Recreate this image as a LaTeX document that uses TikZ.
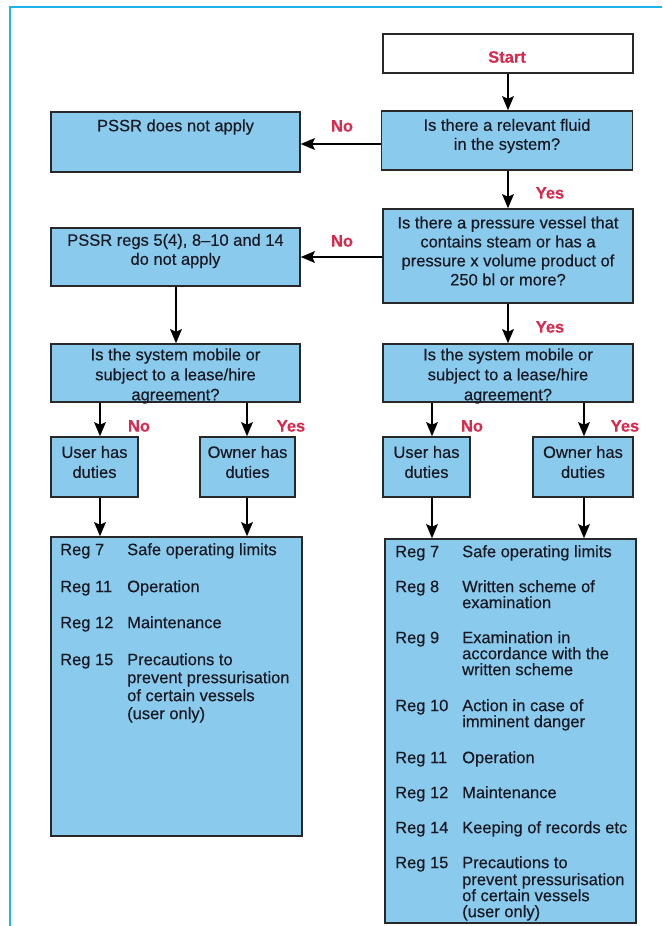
\documentclass[tikz,border=0pt]{standalone}
\usepackage{fontspec}
\setmainfont{Liberation Sans}[FakeBold=0.35]
\newfontfamily\bodyfont{Liberation Sans}[FakeBold=0.35,Ligatures=TeX]
\usetikzlibrary{arrows.meta}
\definecolor{framecyan}{RGB}{28,180,234}
\definecolor{boxblue}{RGB}{138,202,236}
\definecolor{labred}{RGB}{214,44,80}
\definecolor{edge}{RGB}{40,40,40}
\definecolor{ink}{RGB}{25,25,35}
\tikzset{
  box/.style={draw=edge, fill=boxblue, line width=1.4pt, rectangle, inner sep=0pt},
  startbox/.style={draw=edge, fill=white, line width=1.4pt, rectangle, inner sep=0pt},
  txt/.style={inner sep=0pt, align=center, text=ink, font=\bodyfont\fontsize{16.5}{19}\selectfont},
  rtxt/.style={inner sep=0pt, anchor=mid west, yshift=-3.5pt, text=ink, font=\bodyfont\fontsize{16.5}{19}\selectfont},
  lab/.style={inner sep=0pt, text=labred, font=\fontsize{16.5}{19}\selectfont\bfseries},
  arr/.style={line width=2.6pt, -{Stealth[length=14pt,width=11.5pt,inset=2.5pt]}},
}
\begin{document}
\begin{tikzpicture}[x=1pt,y=-1pt]
\useasboundingbox (0,0) rectangle (662,926);
% frame
\draw[framecyan, line width=2.2pt] (10,926) -- (10,7) -- (662,7);

% boxes
\node[startbox, minimum width=250pt, minimum height=39pt] (start) at (508,53.5) {};
\node[box, minimum width=251pt, minimum height=59pt] (fluid) at (507,140.5) {};
\node[box, minimum width=249pt, minimum height=60pt] (notapply) at (175.5,142) {};
\node[box, minimum width=250pt, minimum height=94pt] (pressure) at (508,256) {};
\node[box, minimum width=249pt, minimum height=58pt] (regsno) at (175.5,257) {};
\node[box, minimum width=249pt, minimum height=58pt] (mobL) at (175.5,373) {};
\node[box, minimum width=250pt, minimum height=58pt] (mobR) at (508,373) {};
\node[box, minimum width=87pt, minimum height=60pt] (userL) at (94.5,467) {};
\node[box, minimum width=95pt, minimum height=60pt] (ownerL) at (247.5,467) {};
\node[box, minimum width=87pt, minimum height=60pt] (userR) at (426.5,467) {};
\node[box, minimum width=100pt, minimum height=60pt] (ownerR) at (583,467) {};
\node[box, minimum width=251pt, minimum height=299pt] (regL) at (176.5,686.5) {};
\node[box, minimum width=251pt, minimum height=384pt] (regR) at (510.5,731) {};

% box texts
\node[lab] (tstart) at (507,57) {Start};
\node[txt] (tfluid) at (507,136) {Is there a relevant fluid\\in the system?};
\node[txt] (tnot) at (175.5,127) {PSSR does not apply};
\node[txt] (tpress) at (508,251) {Is there a pressure vessel that\\contains steam or has a\\pressure x volume product of\\250 bl or more?};
\node[txt] (tregsno) at (175.5,251) {PSSR regs 5(4), 8–10 and 14\\do not apply};
\node[txt, font=\bodyfont\fontsize{16.5}{20}\selectfont] (tmobL) at (175.5,376) {Is the system mobile or\\subject to a lease/hire\\agreement?};
\node[txt, font=\bodyfont\fontsize{16.5}{20}\selectfont] (tmobR) at (508,376) {Is the system mobile or\\subject to a lease/hire\\agreement?};
\node[txt, font=\bodyfont\fontsize{16.5}{20}\selectfont] (tuserL) at (94.5,462) {User has\\duties};
\node[txt, font=\bodyfont\fontsize{16.5}{20}\selectfont] (townerL) at (247.5,462) {Owner has\\duties};
\node[txt, font=\bodyfont\fontsize{16.5}{20}\selectfont] (tuserR) at (426.5,462) {User has\\duties};
\node[txt, font=\bodyfont\fontsize{16.5}{20}\selectfont] (townerR) at (583,462) {Owner has\\duties};

% labels
\node[lab] (no1) at (342,126) {No};
\node[lab] (yes1) at (550,193) {Yes};
\node[lab] (no2) at (342,241) {No};
\node[lab] (yes2) at (550,327) {Yes};
\node[lab] (no3) at (139,426) {No};
\node[lab] (yes3) at (291,426) {Yes};
\node[lab] (no4) at (472,426) {No};
\node[lab] (yes4) at (625,426) {Yes};

% arrows
\draw[arr] (start.south) -- (start.south |- fluid.north);
\draw[arr] (fluid.west |- 0,144) -- (notapply.east |- 0,144);
\draw[arr] (fluid.south -| 508,0) -- (pressure.north -| 508,0);
\draw[arr] (pressure.west |- 0,257) -- (regsno.east |- 0,257);
\draw[arr] (regsno.south -| 176,0) -- (mobL.north -| 176,0);
\draw[arr] (pressure.south -| 508,0) -- (mobR.north -| 508,0);
\draw[arr] (mobL.south -| 100,0) -- (userL.north -| 100,0);
\draw[arr] (mobL.south -| 247,0) -- (ownerL.north -| 247,0);
\draw[arr] (mobR.south -| 432,0) -- (userR.north -| 432,0);
\draw[arr] (mobR.south -| 584,0) -- (ownerR.north -| 584,0);
\draw[arr] (userL.south -| 100,0) -- (regL.north -| 100,0);
\draw[arr] (ownerL.south -| 247,0) -- (regL.north -| 247,0);
\draw[arr] (userR.south -| 432,0) -- (regR.north -| 432,0);
\draw[arr] (ownerR.south -| 584,0) -- (regR.north -| 584,0);

% left regulation list
\node[rtxt] (l7) at (60,549) {Reg 7};
\node[rtxt] (l7d) at (127,549) {Safe operating limits};
\node[rtxt] (l11) at (60,586) {Reg 11};
\node[rtxt] (l11d) at (127,586) {Operation};
\node[rtxt] (l12) at (60,622) {Reg 12};
\node[rtxt] (l12d) at (127,622) {Maintenance};
\node[rtxt] (l15) at (60,659) {Reg 15};
\node[rtxt] (l15a) at (127,659) {Precautions to};
\node[rtxt] (l15b) at (127,677) {prevent pressurisation};
\node[rtxt] (l15c) at (127,695) {of certain vessels};
\node[rtxt] (l15e) at (127,713) {(user only)};

% right regulation list
\node[rtxt] (r7) at (395,551) {Reg 7};
\node[rtxt] (r7d) at (462,551) {Safe operating limits};
\node[rtxt] (r8) at (395,586) {Reg 8};
\node[rtxt] (r8a) at (462,586) {Written scheme of};
\node[rtxt] (r8b) at (462,602) {examination};
\node[rtxt] (r9) at (395,637) {Reg 9};
\node[rtxt] (r9a) at (462,637) {Examination in};
\node[rtxt] (r9b) at (462,653) {accordance with the};
\node[rtxt] (r9c) at (462,669) {written scheme};
\node[rtxt] (r10) at (395,705) {Reg 10};
\node[rtxt] (r10a) at (462,705) {Action in case of};
\node[rtxt] (r10b) at (462,721) {imminent danger};
\node[rtxt] (r11) at (395,757) {Reg 11};
\node[rtxt] (r11d) at (462,757) {Operation};
\node[rtxt] (r12) at (395,792) {Reg 12};
\node[rtxt] (r12d) at (462,792) {Maintenance};
\node[rtxt] (r14) at (395,827) {Reg 14};
\node[rtxt] (r14d) at (462,827) {Keeping of records etc};
\node[rtxt] (r15) at (395,862) {Reg 15};
\node[rtxt] (r15a) at (462,862) {Precautions to};
\node[rtxt] (r15b) at (462,879) {prevent pressurisation};
\node[rtxt] (r15c) at (462,895) {of certain vessels};
\node[rtxt] (r15e) at (462,911) {(user only)};
\end{tikzpicture}
\end{document}
